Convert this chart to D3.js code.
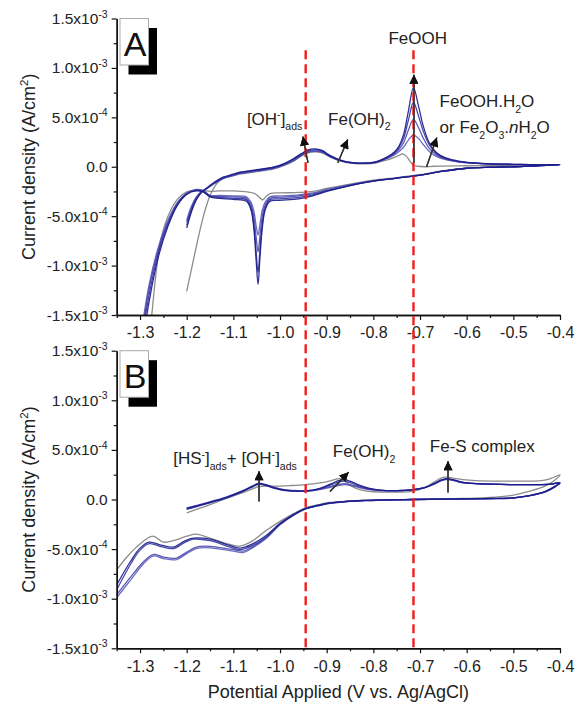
<!DOCTYPE html>
<html><head><meta charset="utf-8">
<script src="https://cdn.jsdelivr.net/npm/d3@7"></script>
<style>
body{margin:0;background:#fff}
svg{font-family:"Liberation Sans",Arial,sans-serif}
</style>
</head><body>
<svg id="c" width="583" height="704"></svg>
<script>
// ---------------- DATA (potential V, current in 1e-4 A/cm2) ----------------
const xTickValues = [-1.3,-1.2,-1.1,-1.0,-0.9,-0.8,-0.7,-0.6,-0.5,-0.4];
const xMinorValues = [-1.35,-1.25,-1.15,-1.05,-0.95,-0.85,-0.75,-0.65,-0.55,-0.45];
const yTickValues = [-1.5e-3,-1.0e-3,-5.0e-4,0,5.0e-4,1.0e-3,1.5e-3];
const yMinorValues = [-1.25e-3,-7.5e-4,-2.5e-4,2.5e-4,7.5e-4,1.25e-3];
const yTickMantissa = ["-1.5x10","-1.0x10","-5.0x10","0.0","5.0x10","1.0x10","1.5x10"];
const yTickExponent = ["-3","-3","-4","","-4","-3","-3"];
const markerPotentials = [-0.945,-0.714];

// Panel A (without HS-)
const A_gray = [[-1.2,-12.6],[-1.19,-10.4],[-1.18,-8.2],[-1.17,-6.1],[-1.16,-4.3],[-1.15,-2.9],[-1.14,-2.0],[-1.13,-1.45],[-1.12,-1.15],[-1.1,-0.9],[-1.086,-0.75],[-1.05,-0.5],[-1.015,-0.25],[-0.99,0.15],[-0.97,0.6],[-0.955,1.05],[-0.94,1.4],[-0.925,1.5],[-0.91,1.4],[-0.893,1.0],[-0.875,0.65],[-0.857,0.42],[-0.84,0.32],[-0.822,0.3],[-0.8,0.35],[-0.786,0.5],[-0.77,0.7],[-0.755,0.95],[-0.745,1.15],[-0.738,1.3],[-0.73,1.1],[-0.722,0.6],[-0.714,0.15],[-0.705,0.05],[-0.69,0.0],[-0.67,0.05],[-0.6,0.1],[-0.5,0.15],[-0.45,0.2],[-0.4,0.2],
 [-0.45,0.1],[-0.5,0.0],[-0.55,-0.05],[-0.6,-0.15],[-0.65,-0.4],[-0.7,-0.8],[-0.75,-1.1],[-0.8,-1.35],[-0.85,-1.75],[-0.9,-2.2],[-0.93,-2.5],[-0.96,-2.6],[-1.0,-2.65],[-1.02,-2.7],[-1.03,-3.0],[-1.037,-3.35],[-1.045,-3.05],[-1.055,-2.7],[-1.07,-2.55],[-1.1,-2.45],[-1.13,-2.45],[-1.15,-2.5],[-1.17,-2.4],[-1.2,-2.55],[-1.22,-3.3],[-1.24,-5.0],[-1.255,-7.3],[-1.265,-10.5],[-1.28,-17.5],[-1.295,-24]];
const A_blue1 = [[-1.2,-6.2],[-1.19,-4.6],[-1.18,-3.4],[-1.17,-2.7],[-1.157,-2.15],[-1.14,-1.55],[-1.122,-1.05],[-1.1,-0.75],[-1.086,-0.55],[-1.05,-0.3],[-1.015,-0.05],[-0.99,0.35],[-0.97,0.85],[-0.955,1.3],[-0.94,1.7],[-0.925,1.8],[-0.91,1.65],[-0.893,1.15],[-0.875,0.75],[-0.857,0.5],[-0.84,0.4],[-0.822,0.37],[-0.8,0.45],[-0.786,0.65],[-0.77,1.0],[-0.755,1.5],[-0.745,2.1],[-0.735,3.3],[-0.725,5.6],[-0.714,8.0],[-0.703,6.1],[-0.693,4.1],[-0.68,2.4],[-0.665,1.45],[-0.645,0.9],[-0.62,0.6],[-0.6,0.45],[-0.55,0.3],[-0.5,0.25],[-0.45,0.2],[-0.4,0.2],
 [-0.45,0.1],[-0.5,0.0],[-0.55,-0.05],[-0.6,-0.15],[-0.65,-0.45],[-0.7,-0.85],[-0.75,-1.15],[-0.8,-1.45],[-0.85,-1.9],[-0.9,-2.5],[-0.93,-2.95],[-0.96,-3.25],[-1.0,-3.4],[-1.022,-3.5],[-1.032,-4.4],[-1.038,-6.2],[-1.043,-9.2],[-1.047,-11.9],[-1.051,-9.6],[-1.056,-6.3],[-1.062,-4.4],[-1.072,-3.5],[-1.1,-3.3],[-1.13,-3.2],[-1.15,-3.05],[-1.165,-2.55],[-1.18,-2.45],[-1.2,-2.8],[-1.22,-3.9],[-1.24,-6.0],[-1.26,-9.0],[-1.28,-13.5],[-1.295,-18],[-1.31,-23]];
const A_blue2 = [[-1.2,-5.9],[-1.19,-4.4],[-1.18,-3.3],[-1.17,-2.65],[-1.157,-2.2],[-1.14,-1.6],[-1.122,-1.1],[-1.1,-0.8],[-1.086,-0.6],[-1.05,-0.35],[-1.015,-0.1],[-0.99,0.3],[-0.97,0.8],[-0.955,1.25],[-0.94,1.6],[-0.925,1.7],[-0.91,1.6],[-0.893,1.1],[-0.875,0.72],[-0.857,0.48],[-0.84,0.38],[-0.822,0.36],[-0.8,0.43],[-0.786,0.6],[-0.77,0.95],[-0.755,1.4],[-0.745,1.95],[-0.735,2.9],[-0.725,4.7],[-0.714,6.5],[-0.703,5.1],[-0.693,3.6],[-0.68,2.2],[-0.665,1.35],[-0.645,0.85],[-0.62,0.55],[-0.6,0.45],[-0.55,0.3],[-0.5,0.25],[-0.45,0.2],[-0.4,0.2],
 [-0.45,0.1],[-0.5,0.0],[-0.55,-0.05],[-0.6,-0.15],[-0.65,-0.45],[-0.7,-0.85],[-0.75,-1.15],[-0.8,-1.45],[-0.85,-1.9],[-0.9,-2.45],[-0.93,-2.85],[-0.96,-3.1],[-1.0,-3.25],[-1.022,-3.35],[-1.032,-4.2],[-1.038,-5.8],[-1.043,-8.4],[-1.047,-10.7],[-1.051,-8.7],[-1.056,-5.9],[-1.062,-4.2],[-1.072,-3.35],[-1.1,-3.2],[-1.13,-3.1],[-1.15,-3.0],[-1.165,-2.5],[-1.18,-2.4],[-1.2,-2.75],[-1.22,-3.8],[-1.24,-5.8],[-1.26,-8.6],[-1.28,-12.8],[-1.295,-17],[-1.31,-22]];
const A_blue3 = [[-1.2,-5.6],[-1.19,-4.2],[-1.18,-3.2],[-1.17,-2.6],[-1.157,-2.2],[-1.14,-1.65],[-1.122,-1.15],[-1.1,-0.85],[-1.086,-0.65],[-1.05,-0.4],[-1.015,-0.15],[-0.99,0.25],[-0.97,0.7],[-0.955,1.15],[-0.94,1.5],[-0.925,1.6],[-0.91,1.5],[-0.893,1.05],[-0.875,0.7],[-0.857,0.47],[-0.84,0.37],[-0.822,0.35],[-0.8,0.42],[-0.786,0.58],[-0.77,0.9],[-0.755,1.3],[-0.745,1.75],[-0.735,2.45],[-0.725,3.7],[-0.714,4.8],[-0.703,3.95],[-0.693,2.9],[-0.68,1.85],[-0.665,1.2],[-0.645,0.78],[-0.62,0.52],[-0.6,0.42],[-0.55,0.28],[-0.5,0.22],[-0.45,0.2],[-0.4,0.2],
 [-0.45,0.1],[-0.5,0.0],[-0.55,-0.05],[-0.6,-0.15],[-0.65,-0.45],[-0.7,-0.85],[-0.75,-1.15],[-0.8,-1.45],[-0.85,-1.85],[-0.9,-2.4],[-0.93,-2.75],[-0.96,-2.95],[-1.0,-3.1],[-1.022,-3.2],[-1.032,-3.9],[-1.038,-5.0],[-1.043,-7.0],[-1.047,-8.6],[-1.051,-7.2],[-1.056,-5.1],[-1.062,-3.9],[-1.072,-3.2],[-1.1,-3.05],[-1.13,-3.0],[-1.15,-2.95],[-1.165,-2.45],[-1.18,-2.35],[-1.2,-2.7],[-1.22,-3.7],[-1.24,-5.6],[-1.26,-8.3],[-1.28,-12.2],[-1.295,-16.5],[-1.31,-21]];
const A_blue4 = [[-1.2,-5.4],[-1.19,-4.0],[-1.18,-3.1],[-1.17,-2.55],[-1.157,-2.2],[-1.14,-1.7],[-1.122,-1.2],[-1.1,-0.9],[-1.086,-0.7],[-1.05,-0.45],[-1.015,-0.2],[-0.99,0.2],[-0.97,0.65],[-0.955,1.1],[-0.94,1.45],[-0.925,1.55],[-0.91,1.45],[-0.893,1.0],[-0.875,0.68],[-0.857,0.46],[-0.84,0.36],[-0.822,0.34],[-0.8,0.4],[-0.786,0.55],[-0.77,0.85],[-0.755,1.2],[-0.745,1.55],[-0.735,2.0],[-0.725,2.7],[-0.714,3.2],[-0.703,2.85],[-0.693,2.25],[-0.68,1.55],[-0.665,1.05],[-0.645,0.72],[-0.62,0.5],[-0.6,0.4],[-0.55,0.28],[-0.5,0.22],[-0.45,0.2],[-0.4,0.2],
 [-0.45,0.1],[-0.5,0.0],[-0.55,-0.05],[-0.6,-0.15],[-0.65,-0.45],[-0.7,-0.85],[-0.75,-1.15],[-0.8,-1.4],[-0.85,-1.8],[-0.9,-2.3],[-0.93,-2.65],[-0.96,-2.85],[-1.0,-2.95],[-1.022,-3.05],[-1.032,-3.6],[-1.038,-4.4],[-1.043,-5.8],[-1.047,-6.9],[-1.051,-6.0],[-1.056,-4.5],[-1.062,-3.6],[-1.072,-3.05],[-1.1,-2.95],[-1.13,-2.9],[-1.15,-2.9],[-1.165,-2.4],[-1.18,-2.3],[-1.2,-2.65],[-1.22,-3.6],[-1.24,-5.4],[-1.26,-8.0],[-1.28,-11.8],[-1.295,-16],[-1.31,-20.5]];

// Panel B (with HS-)
const B_gray = [[-1.2,-1.35],[-1.17,-0.85],[-1.14,-0.35],[-1.11,0.2],[-1.08,0.7],[-1.06,1.05],[-1.045,1.3],[-1.03,1.35],[-1.007,1.35],[-0.98,1.4],[-0.945,1.5],[-0.91,1.7],[-0.89,1.9],[-0.872,2.1],[-0.86,1.8],[-0.845,1.3],[-0.825,0.95],[-0.8,0.78],[-0.76,0.74],[-0.714,0.84],[-0.69,1.2],[-0.67,1.75],[-0.655,2.15],[-0.645,2.25],[-0.63,2.15],[-0.608,2.0],[-0.58,1.9],[-0.53,1.85],[-0.48,1.85],[-0.44,1.9],[-0.42,2.1],[-0.4,2.5],
 [-0.41,2.0],[-0.43,1.4],[-0.465,0.84],[-0.5,0.45],[-0.55,0.2],[-0.608,0.1],[-0.714,0.02],[-0.822,-0.08],[-0.86,-0.18],[-0.893,-0.3],[-0.92,-0.55],[-0.945,-0.85],[-0.97,-1.4],[-1.0,-2.2],[-1.029,-3.1],[-1.06,-4.2],[-1.086,-4.7],[-1.11,-4.5],[-1.15,-3.9],[-1.179,-3.5],[-1.2,-3.7],[-1.225,-4.1],[-1.25,-4.3],[-1.272,-3.7],[-1.29,-4.1],[-1.31,-4.9],[-1.33,-5.9],[-1.35,-7.1]];
const B_blue1 = [[-1.2,-0.9],[-1.17,-0.55],[-1.14,-0.15],[-1.11,0.3],[-1.08,0.85],[-1.06,1.3],[-1.045,1.6],[-1.03,1.45],[-1.01,1.15],[-0.99,0.95],[-0.96,0.85],[-0.93,0.95],[-0.91,1.2],[-0.89,1.6],[-0.875,1.9],[-0.862,2.0],[-0.85,1.85],[-0.83,1.45],[-0.81,1.15],[-0.786,0.95],[-0.75,0.9],[-0.714,1.0],[-0.69,1.2],[-0.67,1.6],[-0.655,1.95],[-0.643,2.1],[-0.63,2.0],[-0.61,1.75],[-0.58,1.6],[-0.55,1.55],[-0.5,1.5],[-0.45,1.5],[-0.42,1.55],[-0.4,1.7],
 [-0.41,1.35],[-0.43,0.85],[-0.465,0.4],[-0.5,0.17],[-0.55,0.1],[-0.608,0.07],[-0.714,0.0],[-0.822,-0.1],[-0.86,-0.2],[-0.893,-0.35],[-0.92,-0.6],[-0.945,-0.9],[-0.97,-1.5],[-1.0,-2.4],[-1.029,-3.6],[-1.06,-4.5],[-1.086,-4.9],[-1.11,-4.6],[-1.15,-4.0],[-1.186,-3.9],[-1.205,-4.2],[-1.229,-4.8],[-1.255,-4.6],[-1.28,-4.3],[-1.3,-4.9],[-1.32,-6.2],[-1.35,-8.6]];
const B_blue2 = [[-1.2,-1.0],[-1.17,-0.6],[-1.14,-0.2],[-1.11,0.25],[-1.08,0.8],[-1.06,1.25],[-1.045,1.55],[-1.03,1.4],[-1.01,1.1],[-0.99,0.9],[-0.96,0.82],[-0.93,0.9],[-0.91,1.15],[-0.89,1.5],[-0.875,1.75],[-0.862,1.85],[-0.85,1.7],[-0.83,1.35],[-0.81,1.1],[-0.786,0.95],[-0.75,0.9],[-0.714,1.0],[-0.69,1.2],[-0.67,1.55],[-0.655,1.9],[-0.643,2.05],[-0.63,1.95],[-0.61,1.7],[-0.58,1.6],[-0.55,1.55],[-0.5,1.5],[-0.45,1.5],[-0.42,1.55],[-0.4,1.65],
 [-0.41,1.3],[-0.43,0.8],[-0.465,0.38],[-0.5,0.15],[-0.55,0.08],[-0.608,0.05],[-0.714,0.0],[-0.822,-0.12],[-0.86,-0.22],[-0.893,-0.38],[-0.92,-0.65],[-0.945,-0.95],[-0.97,-1.55],[-1.0,-2.5],[-1.029,-3.75],[-1.06,-4.65],[-1.086,-5.05],[-1.11,-4.75],[-1.15,-4.15],[-1.186,-4.0],[-1.205,-4.35],[-1.229,-4.95],[-1.255,-4.75],[-1.28,-4.45],[-1.3,-5.1],[-1.32,-6.5],[-1.35,-9.1]];
const B_blue3 = [[-1.2,-0.85],[-1.17,-0.5],[-1.14,-0.1],[-1.11,0.35],[-1.08,0.9],[-1.06,1.35],[-1.045,1.65],[-1.03,1.5],[-1.01,1.2],[-0.99,1.0],[-0.96,0.88],[-0.93,0.95],[-0.91,1.1],[-0.89,1.35],[-0.875,1.5],[-0.862,1.6],[-0.85,1.5],[-0.83,1.25],[-0.81,1.05],[-0.786,0.92],[-0.75,0.88],[-0.714,1.0],[-0.69,1.2],[-0.67,1.6],[-0.655,1.95],[-0.643,2.1],[-0.63,2.0],[-0.61,1.75],[-0.58,1.6],[-0.55,1.55],[-0.5,1.5],[-0.45,1.5],[-0.42,1.55],[-0.4,1.7],
 [-0.41,1.35],[-0.43,0.85],[-0.465,0.4],[-0.5,0.17],[-0.55,0.1],[-0.608,0.07],[-0.714,0.0],[-0.822,-0.1],[-0.86,-0.2],[-0.893,-0.35],[-0.92,-0.6],[-0.945,-0.9],[-0.97,-1.5],[-1.0,-2.5],[-1.029,-3.8],[-1.06,-4.8],[-1.079,-5.2],[-1.1,-5.05],[-1.129,-4.85],[-1.16,-4.7],[-1.18,-4.8],[-1.2,-5.3],[-1.222,-5.9],[-1.25,-5.8],[-1.272,-5.55],[-1.293,-6.3],[-1.32,-7.8],[-1.35,-9.6]];
const B_blue4 = [[-1.2,-0.95],[-1.17,-0.55],[-1.14,-0.15],[-1.11,0.3],[-1.08,0.85],[-1.06,1.3],[-1.045,1.55],[-1.03,1.45],[-1.01,1.15],[-0.99,0.95],[-0.96,0.85],[-0.93,0.9],[-0.91,1.05],[-0.89,1.25],[-0.875,1.4],[-0.862,1.5],[-0.85,1.42],[-0.83,1.2],[-0.81,1.0],[-0.786,0.9],[-0.75,0.88],[-0.714,1.0],[-0.69,1.2],[-0.67,1.55],[-0.655,1.9],[-0.643,2.0],[-0.63,1.95],[-0.61,1.7],[-0.58,1.6],[-0.55,1.55],[-0.5,1.5],[-0.45,1.5],[-0.42,1.55],[-0.4,1.65],
 [-0.41,1.3],[-0.43,0.8],[-0.465,0.38],[-0.5,0.15],[-0.55,0.08],[-0.608,0.05],[-0.714,0.0],[-0.822,-0.12],[-0.86,-0.22],[-0.893,-0.38],[-0.92,-0.65],[-0.945,-0.95],[-0.97,-1.55],[-1.0,-2.55],[-1.029,-3.9],[-1.06,-4.9],[-1.079,-5.35],[-1.1,-5.2],[-1.129,-5.0],[-1.16,-4.85],[-1.18,-4.95],[-1.2,-5.45],[-1.222,-6.05],[-1.25,-5.95],[-1.272,-5.7],[-1.293,-6.5],[-1.32,-8.1],[-1.35,-9.9]];

// annotations: text anchor position [V, current 1e-4]
const A_labels = [
  {pos:[-1.071,4.24], anchor:"start", segs:[{t:"[OH"},{t:"-",sup:1},{t:"]"},{t:"ads",sub:1}]},
  {pos:[-0.897,4.24], anchor:"start", segs:[{t:"Fe(OH)"},{t:"2",sub:1}]},
  {pos:[-0.705,12.45], anchor:"middle", segs:[{t:"FeOOH"}]},
  {pos:[-0.658,6.03], anchor:"start", segs:[{t:"FeOOH.H"},{t:"2",sub:1},{t:"O"}]},
  {pos:[-0.658,3.4], anchor:"start", segs:[{t:"or Fe"},{t:"2",sub:1},{t:"O"},{t:"3",sub:1},{t:"."},{t:"n",it:1},{t:"H"},{t:"2",sub:1},{t:"O"}]}
];
const A_arrows = [
  {from:[-0.940,0.40], to:[-0.951,3.05]},
  {from:[-0.876,0.40], to:[-0.855,2.75]},
  {from:[-0.713,0.40], to:[-0.713,9.3]},
  {from:[-0.686,0.0], to:[-0.664,2.95]}
];
const B_labels = [
  {pos:[-1.229,3.54], anchor:"start", segs:[{t:"[HS"},{t:"-",sup:1},{t:"]"},{t:"ads",sub:1},{t:"+ [OH"},{t:"-",sup:1},{t:"]"},{t:"ads",sub:1}]},
  {pos:[-0.887,4.24], anchor:"start", segs:[{t:"Fe(OH)"},{t:"2",sub:1}]},
  {pos:[-0.679,4.75], anchor:"start", segs:[{t:"Fe-S complex"}]}
];
const B_arrows = [
  {from:[-1.045,-0.2], to:[-1.045,2.85]},
  {from:[-0.893,0.81], to:[-0.853,2.75]},
  {from:[-0.640,0.7], to:[-0.640,3.85]}
];

// ---------------- DRAW ----------------
const svg = d3.select("#c");
const x = d3.scaleLinear().domain([-1.35,-0.4]).range([116.7,560]);
const blueColors = ["#1a1a8a","#33339e","#4848ad","#5c5cba"];
const grayColor = "#8c8c8c";
const FS = 17;

svg.append("defs").append("marker")
  .attr("id","ah").attr("viewBox","0 0 10 10").attr("refX",10).attr("refY",5)
  .attr("markerUnits","userSpaceOnUse").attr("markerWidth",11).attr("markerHeight",9)
  .attr("orient","auto")
  .append("path").attr("d","M0,0 L10,5 L0,10 z").attr("fill","#111");

function rich(t, segs, fs){
  let cur = 0;
  segs.forEach(s=>{
    const off = s.sup ? -0.4*fs : (s.sub ? 0.32*fs : 0);
    const ts = t.append("tspan").text(s.t).attr("dy", off-cur);
    if(s.sup||s.sub) ts.attr("font-size", fs*0.62);
    if(s.it) ts.attr("font-style","italic");
    cur = off;
  });
}

const panels = [
  {name:"A", top:18.5, bottom:315, curves:[A_gray,A_blue4,A_blue3,A_blue2,A_blue1], labels:A_labels, arrows:A_arrows},
  {name:"B", top:350.7, bottom:648.3, curves:[B_gray,B_blue4,B_blue3,B_blue2,B_blue1], labels:B_labels, arrows:B_arrows}
];
const ys = [];
panels.forEach((p,pi)=>{
  const y = d3.scaleLinear().domain([-1.5e-3,1.5e-3]).range([p.bottom,p.top]);
  ys.push(y);
  const g = svg.append("g");
  const clipId = "clip"+p.name;
  svg.select("defs").append("clipPath").attr("id",clipId)
    .append("rect").attr("x",x(-1.35)).attr("y",p.top-2).attr("width",x(-0.4)-x(-1.35)+2).attr("height",p.bottom-p.top+2);

  const line = d3.line().x(d=>x(d[0])).y(d=>y(d[1]*1e-4)).curve(d3.curveCatmullRom.alpha(0.5));
  const cg = g.append("g").attr("clip-path",`url(#${clipId})`);
  p.curves.forEach((c,i)=>{
    cg.append("path").attr("d",line(c)).attr("fill","none")
      .attr("stroke", i===0 ? grayColor : blueColors[4-i])
      .attr("stroke-width",1.3).attr("stroke-opacity",i===0?1:0.9);
  });

  // axes
  const ax = g.append("g").attr("transform",`translate(0,${p.bottom})`)
    .call(d3.axisBottom(x).tickValues(xTickValues).tickSize(5).tickSizeOuter(0).tickPadding(7).tickFormat(d=>d.toFixed(1)));
  ax.selectAll("text").attr("font-size",16).attr("fill","#222").attr("font-family","Liberation Sans, Arial, sans-serif");
  g.append("g").attr("transform",`translate(0,${p.bottom})`)
    .call(d3.axisBottom(x).tickValues(xMinorValues).tickSize(3).tickSizeOuter(0).tickFormat(""));
  const ay = g.append("g").attr("transform",`translate(${x(-1.35)},0)`)
    .call(d3.axisLeft(y).tickValues(yTickValues).tickSize(5).tickSizeOuter(0).tickFormat(""));
  g.append("g").attr("transform",`translate(${x(-1.35)},0)`)
    .call(d3.axisLeft(y).tickValues(yMinorValues).tickSize(3).tickSizeOuter(0).tickFormat(""));
  g.selectAll(".domain").attr("stroke","#111").attr("stroke-width",1.4);
  g.selectAll(".tick line").attr("stroke","#111").attr("stroke-width",1.2);

  yTickValues.forEach((v,i)=>{
    const t = g.append("text").attr("x",x(-1.35)-9).attr("y",y(v)).attr("dy","0.36em")
      .attr("text-anchor","end").attr("font-size",15.5).attr("fill","#222");
    t.append("tspan").text(yTickMantissa[i]);
    if(yTickExponent[i]) t.append("tspan").text(yTickExponent[i]).attr("dy",-6.5).attr("font-size",10.5);
  });

  // y title
  const yt = g.append("text").attr("transform",`translate(35,${(p.top+p.bottom)/2}) rotate(-90)`)
    .attr("text-anchor","middle").attr("font-size",18).attr("fill","#222");
  yt.append("tspan").text("Current density (A/cm");
  yt.append("tspan").text("2").attr("dy",-7).attr("font-size",11.5);
  yt.append("tspan").text(")").attr("dy",7);

  // panel label box
  g.append("rect").attr("x",128.5).attr("y",p.top+9.5).attr("width",28.5).attr("height",46.5).attr("fill","#000");
  g.append("rect").attr("x",120).attr("y",p.top).attr("width",28.5).attr("height",46.5)
    .attr("fill","#fff").attr("stroke","#aaa").attr("stroke-width",1);
  g.append("text").attr("x",135).attr("y",p.top+37).attr("text-anchor","middle")
    .attr("font-size",34).attr("fill","#111").text(p.name);

  p.labels.forEach(l=>{
    const t = g.append("text").attr("x",x(l.pos[0])).attr("y",y(l.pos[1]*1e-4))
      .attr("text-anchor",l.anchor).attr("font-size",FS).attr("fill","#222");
    rich(t,l.segs,FS);
  });
  p.arrows.forEach(a=>{
    g.append("line").attr("x1",x(a.from[0])).attr("y1",y(a.from[1]*1e-4))
      .attr("x2",x(a.to[0])).attr("y2",y(a.to[1]*1e-4))
      .attr("stroke","#222").attr("stroke-width",1.3).attr("marker-end","url(#ah)");
  });
});

// red dashed marker lines spanning both panels
markerPotentials.forEach(v=>{
  svg.append("line").attr("x1",x(v)).attr("x2",x(v))
    .attr("y1",ys[0](1.18e-3)).attr("y2",ys[1](-1.5e-3))
    .attr("stroke","#f21d1d").attr("stroke-width",2.4).attr("stroke-dasharray","9,5");
});
// re-draw arrows on top of red lines
panels.forEach((p,pi)=>{
  p.arrows.forEach(a=>{
    svg.append("line").attr("x1",x(a.from[0])).attr("y1",ys[pi](a.from[1]*1e-4))
      .attr("x2",x(a.to[0])).attr("y2",ys[pi](a.to[1]*1e-4))
      .attr("stroke","#333").attr("stroke-width",1.3).attr("marker-end","url(#ah)");
  });
});

// x title
svg.append("text").attr("x",(x(-1.35)+x(-0.4))/2).attr("y",698).attr("text-anchor","middle")
  .attr("font-size",18).attr("fill","#222").text("Potential Applied (V vs. Ag/AgCl)");
</script>
</body></html>
